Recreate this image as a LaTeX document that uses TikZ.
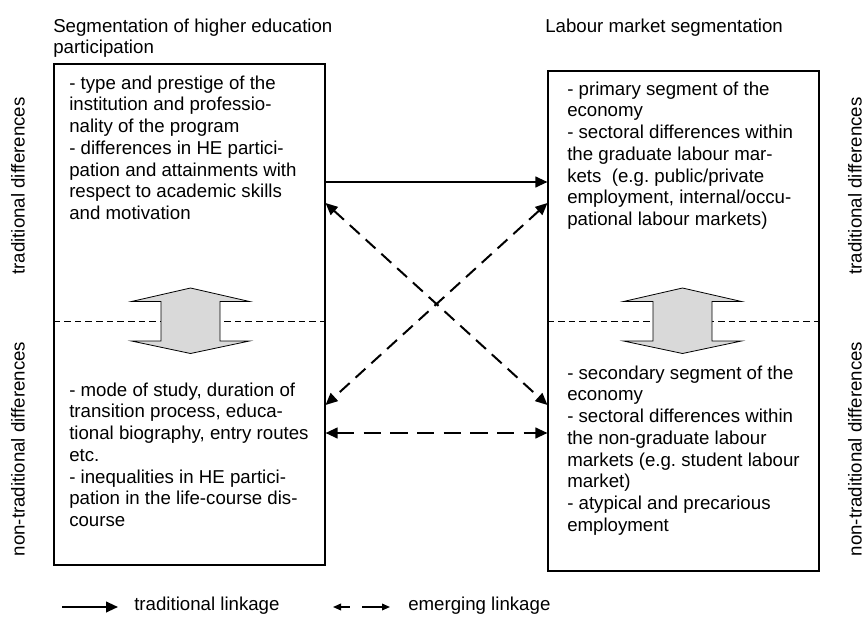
\documentclass[tikz,border=0pt]{standalone}
\usepackage{fontspec}
\setmainfont{Liberation Sans}
\usetikzlibrary{shapes,arrows,arrows.meta,positioning,calc}
\frenchspacing

\begin{document}
\begin{tikzpicture}[
    x=0.75pt, y=-0.75pt,
    font=\fontsize{14}{16.3}\selectfont,
    >={Triangle[length=9pt,width=8pt]},
    box/.style = {rectangle, draw, line width=0.8pt, minimum width=203.25pt, inner sep=0pt},
    txt/.style = {anchor=north west, align=left, inner sep=0pt},
    side/.style = {rotate=90, inner sep=0pt},
    level/.style = {dash pattern=on 5pt off 3pt, line width=0.6pt},
    shiftarrow/.style = {draw, fill=gray!30, line width=0.6pt},
    tradlink/.style = {->, line width=1.5pt},
    emerlink/.style = {<->, line width=1.5pt, dash pattern=on 10pt off 6pt},
    keytip/.style = {line width=1.1pt, >={Triangle[length=6pt,width=5pt]}}
]
    \useasboundingbox (0,0) rectangle (864,617);

    % headings
    \node[txt] (ltitle) at (53,18.3) {Segmentation of higher education\\participation};
    \node[txt] (rtitle) at (545,18.3) {Labour market segmentation};

    % the two segmentation boxes
    \node[box, minimum height=375.75pt] (lbox) at (189.5,314.5) {};
    \node[box, minimum height=375pt] (rbox) at (683.5,321) {};

    \node[txt] (ltrad) at (69,75.3) {- type and prestige of the\\institution and professio-\\nality of the program\\- differences in HE partici-\\pation and attainments with\\respect to academic skills\\and motivation};
    \node[txt] (lnon) at (69,382.3) {- mode of study, duration of\\transition process, educa-\\tional biography, entry routes\\etc.\\- inequalities in HE partici-\\pation in the life-course dis-\\course};
    \node[txt] (rtrad) at (567,81.3) {- primary segment of the\\economy\\- sectoral differences within\\the graduate labour mar-\\kets~ (e.g. public/private\\employment, internal/occu-\\pational labour markets)};
    \node[txt] (rnon) at (567,365.3) {- secondary segment of the\\economy\\- sectoral differences within\\the non-graduate labour\\markets (e.g. student labour\\market)\\- atypical and precarious\\employment};

    % side labels
    \node[side] (ltradlab) at (18,186) {traditional differences};
    \node[side] (lnonlab) at (18,449) {non-traditional differences};
    \node[side] (rtradlab) at (855,186) {traditional differences};
    \node[side] (rnonlab) at (855,449) {non-traditional differences};

    % split between traditional and non-traditional
    \draw[level] (lbox.west |- 0,321.5) -- (lbox.east |- 0,321.5);
    \draw[level] (rbox.west |- 0,321.5) -- (rbox.east |- 0,321.5);
    \draw[shiftarrow] (190.5,288) -- ++(59,13.5) -- ++(-29.5,0) -- ++(0,39.5) -- ++(29.5,0) -- ++(-59,12.5)
        -- ++(-59,-12.5) -- ++(29.5,0) -- ++(0,-39.5) -- ++(-29.5,0) -- cycle;
    \draw[shiftarrow] (682.5,288) -- ++(59,13.5) -- ++(-29.5,0) -- ++(0,39.5) -- ++(29.5,0) -- ++(-59,12.5)
        -- ++(-59,-12.5) -- ++(29.5,0) -- ++(0,-39.5) -- ++(-29.5,0) -- cycle;

    % linkages
    \draw[tradlink] (lbox.east |- 0,182) -- (rbox.west |- 0,182);
    \draw[emerlink] (lbox.east |- 0,203) -- (rbox.west |- 0,405);
    \draw[emerlink] (rbox.west |- 0,203) -- (lbox.east |- 0,405);
    \draw[emerlink, dash pattern=on 13pt off 7pt] (lbox.east |- 0,433) -- (rbox.west |- 0,433);

    % key
    \coordinate (tradA) at (62,607);
    \coordinate (tradB) at (118,607);
    \coordinate (emerA) at (333,607);
    \coordinate (emerL) at (350,607);
    \coordinate (emerR) at (362,607);
    \coordinate (emerB) at (390,607);
    \node[anchor=west, inner sep=0pt] (tradkey) at (134,606) {traditional linkage};
    \node[anchor=west, inner sep=0pt] (emerkey) at (408,606) {emerging linkage};
    \draw[tradlink] (tradA) -- (tradB);
    \draw[keytip, <-] (emerA) -- (emerL);
    \draw[keytip, ->] (emerR) -- (emerB);
\end{tikzpicture}
\end{document}
